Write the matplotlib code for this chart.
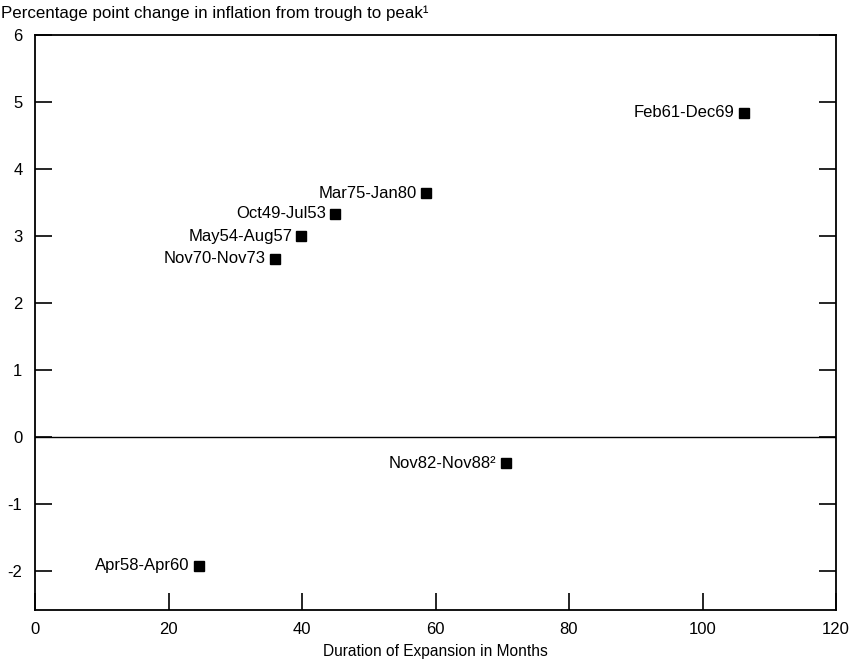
import matplotlib
matplotlib.use("Agg")
import matplotlib.pyplot as plt

plt.rcParams['font.family'] = ['Liberation Sans', 'DejaVu Sans']

labels = ["Feb61-Dec69", "Mar75-Jan80", "Oct49-Jul53", "May54-Aug57",
          "Nov70-Nov73", "Nov82-Nov88²", "Apr58-Apr60"]
duration = [106.2, 58.6, 45.0, 39.9, 35.9, 70.5, 24.5]
change = [4.84, 3.64, 3.33, 3.00, 2.66, -0.39, -1.92]

xticks = [0, 20, 40, 60, 80, 100, 120]
yticks = [-2, -1, 0, 1, 2, 3, 4, 5, 6]

fig = plt.figure(figsize=(8.52, 6.65), dpi=100)
ax = fig.add_axes([35/852, 1-610/665, 801/852, (610-35)/665])

ax.plot(duration, change, linestyle='none', marker='s', markersize=7.2,
        color='black')
for lab, x, y in zip(labels, duration, change):
    ax.annotate(lab, (x, y), xytext=(-6.5, 0), textcoords='offset points',
                ha='right', va='center', fontsize=12, color='black')

ax.axhline(0, color='black', linewidth=1.0)
ax.set_xlim(0, 120)
ax.set_ylim(-2.58, 6)
ax.set_xticks(xticks)
ax.set_yticks(yticks)
ax.set_yticklabels([str(t) for t in yticks])
ax.tick_params(axis='both', direction='in', length=12, width=1.2,
               labelsize=12, colors='black')
ax.tick_params(axis='y', right=True, left=True, pad=9)
ax.tick_params(axis='x', top=False, pad=9)
for s in ax.spines.values():
    s.set_linewidth(1.3)
    s.set_color('black')

ax.set_xlabel("Duration of Expansion in Months", fontsize=11.2, labelpad=5)
fig.text(1/852, 1-18/665, "Percentage point change in inflation from trough to peak¹",
         fontsize=12.2, ha='left', va='baseline')

fig.savefig("out.png", dpi=100)
